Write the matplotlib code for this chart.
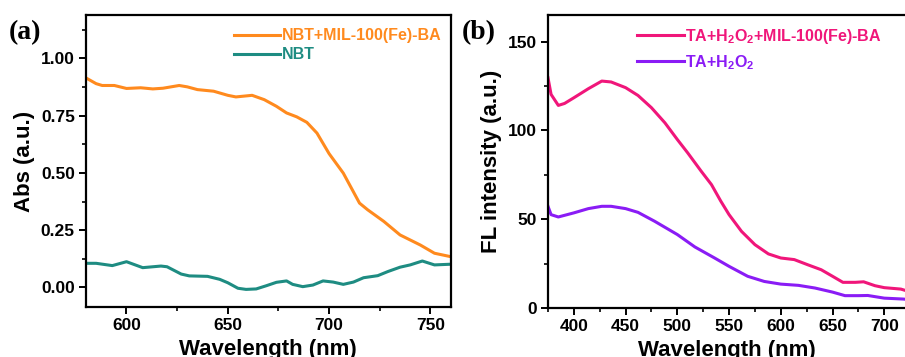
import matplotlib
matplotlib.use('Agg')
import matplotlib.pyplot as plt
from matplotlib.ticker import MultipleLocator

plt.rcParams['font.family'] = 'Liberation Sans'
plt.rcParams['font.weight'] = 'bold'
plt.rcParams['mathtext.fontset'] = 'custom'
plt.rcParams['mathtext.bf'] = 'Liberation Sans:bold'
plt.rcParams['mathtext.rm'] = 'Liberation Sans:bold'
plt.rcParams['mathtext.default'] = 'bf'

# panel (a) - absorbance
wl_a_mix = [580, 585, 588, 594, 600, 607, 613, 618, 626, 630, 635, 643, 650, 654, 662,
            668, 674, 679, 684, 689, 694, 700, 707, 715, 719, 727, 735, 745, 752, 760]
abs_mix = [0.915, 0.89, 0.882, 0.882, 0.869, 0.872, 0.867, 0.870, 0.882, 0.876, 0.864,
           0.857, 0.839, 0.832, 0.839, 0.820, 0.791, 0.762, 0.745, 0.721, 0.674, 0.584,
           0.499, 0.368, 0.339, 0.288, 0.229, 0.185, 0.149, 0.134]
wl_a_nbt = [580, 585, 593, 600, 608, 617, 620, 627, 631, 640, 646, 650, 655, 659, 664,
            669, 674, 679, 682, 687, 692, 697, 702, 707, 712, 717, 724, 729, 735, 740,
            746, 752, 760]
abs_nbt = [0.105, 0.105, 0.095, 0.112, 0.086, 0.093, 0.090, 0.058, 0.050, 0.048, 0.035,
           0.020, -0.004, -0.009, -0.007, 0.007, 0.022, 0.028, 0.013, 0.003, 0.010, 0.028,
           0.023, 0.013, 0.023, 0.042, 0.051, 0.069, 0.088, 0.098, 0.115, 0.098, 0.101]

# panel (b) - fluorescence
wl_b_mix = [375, 378, 385, 391, 400, 414, 427, 436, 450, 462, 475, 488, 500, 510, 523,
            533, 542, 550, 562, 575, 588, 600, 613, 626, 639, 650, 660, 672, 680, 691,
            700, 716, 720]
fl_mix = [129.7, 120.3, 114.1, 115.2, 118.4, 123.5, 127.8, 127.3, 124.1, 119.7, 112.8,
          104.3, 94.9, 87.4, 77.1, 69.5, 60.2, 52.6, 43.2, 35.7, 30.5, 28.2, 27.3, 24.4,
          21.6, 17.9, 14.5, 14.5, 14.8, 12.6, 11.5, 10.7, 10.0]
wl_b_ta = [375, 378, 385, 400, 414, 427, 436, 450, 462, 478, 500, 517, 536, 550, 568,
           584, 600, 617, 633, 650, 662, 675, 684, 700, 718, 720]
fl_ta = [57.3, 52.6, 51.3, 53.6, 56.0, 57.3, 57.3, 56.0, 53.9, 48.9, 41.4, 34.4, 28.2,
         23.5, 17.9, 15.0, 13.5, 12.8, 11.3, 9.0, 7.0, 7.0, 7.1, 5.6, 5.1, 5.0]

fig = plt.figure(figsize=(9.05, 3.57), dpi=100)
ax1 = fig.add_axes([0.095, 0.140, 0.403, 0.818])
ax2 = fig.add_axes([0.6055, 0.137, 0.3945, 0.821])

ax1.plot(wl_a_mix, abs_mix, color='#FF8A1E', lw=2.2, label='NBT+MIL-100(Fe)-BA')
ax1.plot(wl_a_nbt, abs_nbt, color='#1E8C82', lw=2.2, label='NBT')
ax1.set_xlim(580, 760)
ax1.set_ylim(-0.086, 1.19)
ax1.xaxis.set_major_locator(MultipleLocator(50))
ax1.xaxis.set_minor_locator(MultipleLocator(25))
ax1.yaxis.set_major_locator(MultipleLocator(0.25))
ax1.yaxis.set_minor_locator(MultipleLocator(0.125))
ax1.set_yticks([0, 0.25, 0.5, 0.75, 1.0])
ax1.set_yticklabels(['0.00', '0.25', '0.50', '0.75', '1.00'])
ax1.set_xlabel('Wavelength (nm)', fontsize=16, fontweight='bold', labelpad=4)
ax1.set_ylabel('Abs (a.u.)', fontsize=16, fontweight='bold', labelpad=4)
leg1 = ax1.legend(loc='upper left', bbox_to_anchor=(0.405, 0.955), frameon=False,
                  fontsize=11.5, handlelength=2.9, handletextpad=0.1, labelspacing=0.25,
                  borderpad=0, borderaxespad=0)
for t, l in zip(leg1.get_texts(), leg1.get_lines()):
    t.set_color(l.get_color())

ax2.plot(wl_b_mix, fl_mix, color='#F0167A', lw=2.2, label='TA+H$_2$O$_2$+MIL-100(Fe)-BA')
ax2.plot(wl_b_ta, fl_ta, color='#8A1CF5', lw=2.2, label='TA+H$_2$O$_2$')
ax2.set_xlim(375, 720)
ax2.set_ylim(0, 165)
ax2.xaxis.set_major_locator(MultipleLocator(50))
ax2.xaxis.set_minor_locator(MultipleLocator(25))
ax2.yaxis.set_major_locator(MultipleLocator(50))
ax2.yaxis.set_minor_locator(MultipleLocator(25))
ax2.spines['right'].set_visible(False)
ax2.set_xlabel('Wavelength (nm)', fontsize=16, fontweight='bold', labelpad=4)
ax2.set_ylabel('FL intensity (a.u.)', fontsize=16, fontweight='bold', labelpad=4)
leg2 = ax2.legend(loc='upper left', bbox_to_anchor=(0.25, 0.96), frameon=False,
                  fontsize=11.5, handlelength=2.9, handletextpad=0.1, labelspacing=0.45,
                  borderpad=0, borderaxespad=0)
for t, l in zip(leg2.get_texts(), leg2.get_lines()):
    t.set_color(l.get_color())

for ax in (ax1, ax2):
    for s in ax.spines.values():
        s.set_linewidth(1.6)
    ax.tick_params(which='major', direction='out', length=5, width=1.4, labelsize=12.5, pad=3)
    ax.tick_params(which='minor', direction='out', length=3, width=1.2)
    for lab in ax.get_xticklabels() + ax.get_yticklabels():
        lab.set_fontweight('bold')

fig.text(0.010, 0.908, '(a)', fontsize=20, fontweight='bold', family='Liberation Serif', va='center')
fig.text(0.510, 0.908, '(b)', fontsize=20, fontweight='bold', family='Liberation Serif', va='center')

fig.savefig('out.png', dpi=100)
